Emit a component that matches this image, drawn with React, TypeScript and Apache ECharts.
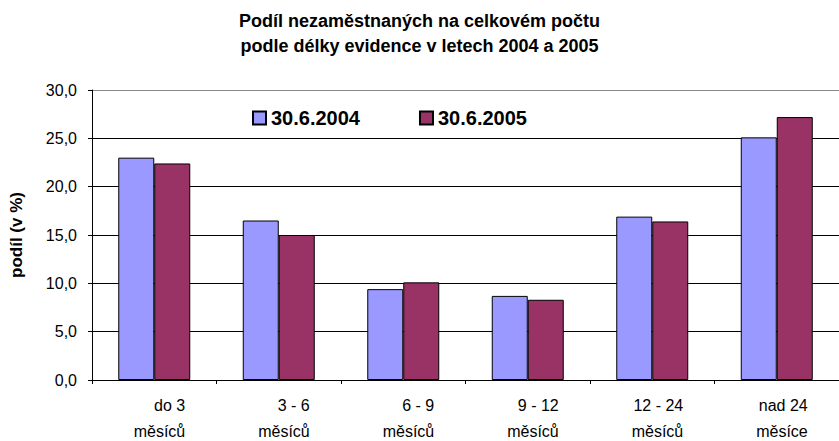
import React, { useEffect, useRef } from "react";
import * as echarts from "echarts";

const titleLines = ["Podíl nezaměstnaných na celkovém počtu", "podle délky evidence v letech 2004 a 2005"];
const categories = ["do 3\nměsíců", "3 - 6\nměsíců", "6 - 9\nměsíců", "9 - 12\nměsíců", "12 - 24\nměsíců", "nad 24\nměsíce"];
const seriesNames = ["30.6.2004", "30.6.2005"];
const values2004 = [23.0, 16.5, 9.4, 8.7, 16.9, 25.1];
const values2005 = [22.4, 15.0, 10.1, 8.3, 16.4, 27.2];
const yAxisName = "podíl (v %)";

export default function App() {
  const ref = useRef<HTMLDivElement>(null);
  useEffect(() => {
    if (!ref.current) return;
    const chart = echarts.init(ref.current, null, { renderer: "svg" });
    const font = "'Liberation Sans', Arial, sans-serif";
    chart.setOption({
      animation: false,
      backgroundColor: "#ffffff",
      textStyle: { fontFamily: font },
      title: {
        text: titleLines.join("\n"),
        left: "center",
        top: 3,
        textStyle: { fontFamily: font, fontSize: 18, fontWeight: "bold", color: "#000", lineHeight: 25 },
      },
      legend: {
        left: 247,
        top: 103,
        itemWidth: 13,
        itemHeight: 13,
        itemGap: 59,
        icon: "rect",
        textStyle: { fontFamily: font, fontSize: 20, fontWeight: "bold", color: "#000" },
        data: seriesNames,
      },
      grid: { left: 90, top: 90, width: 756, height: 290, containLabel: false },
      xAxis: {
        type: "category",
        data: categories,
        axisLine: { show: true, lineStyle: { color: "#000", width: 1 } },
        axisTick: { show: true, length: 4, lineStyle: { color: "#000" } },
        axisLabel: {
          margin: 12,
          interval: 0,
          formatter: (v: string) => v.split("\n").map((s) => `{a|${s}}`).join("\n"),
          rich: {
            a: { fontFamily: font, fontSize: 16, color: "#000", width: 62, align: "right", lineHeight: 26 },
          },
        },
      },
      yAxis: {
        type: "value",
        min: 0,
        max: 30,
        interval: 5,
        name: yAxisName,
        nameLocation: "middle",
        nameGap: 67,
        nameTextStyle: { fontFamily: font, fontSize: 17, fontWeight: "bold", color: "#000" },
        axisLine: { show: true, lineStyle: { color: "#000", width: 1 } },
        axisTick: { show: true, length: 4, lineStyle: { color: "#000" } },
        axisLabel: {
          margin: 15,
          fontFamily: font,
          fontSize: 16,
          color: "#000",
          formatter: (v: number) => v.toFixed(1).replace(".", ","),
        },
        splitLine: {
          show: true,
          lineStyle: { color: ["#000", "#000", "#000", "#000", "#000", "#000", "#888"], width: 1 },
        },
      },
      series: [
        {
          name: seriesNames[0],
          type: "bar",
          data: values2004,
          barWidth: 36,
          barGap: "0%",
          itemStyle: { color: "#9999FF", borderColor: "#000", borderWidth: 1 },
        },
        {
          name: seriesNames[1],
          type: "bar",
          data: values2005,
          barWidth: 36,
          barGap: "0%",
          itemStyle: { color: "#993366", borderColor: "#000", borderWidth: 1 },
        },
      ],
    });
    return () => chart.dispose();
  }, []);
  return <div ref={ref} style={{ position: "fixed", left: 0, top: 0, width: 839, height: 441 }} />;
}
